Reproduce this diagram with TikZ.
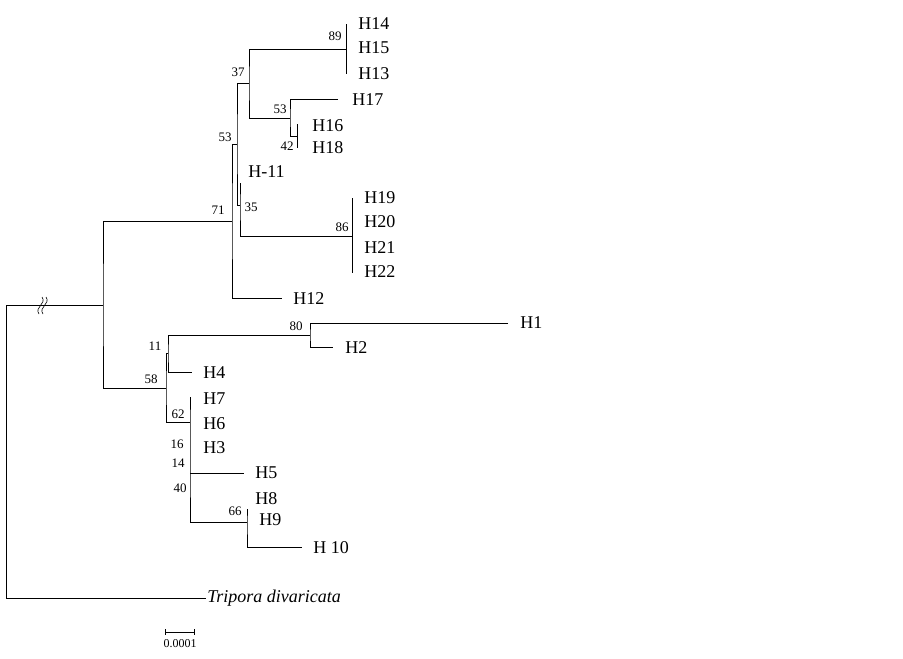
\documentclass[tikz,border=0pt]{standalone}
\usepackage{fontspec}
\setmainfont{Liberation Serif}
\begin{document}
\begin{tikzpicture}[x=1pt,y=-1pt,line width=0.7pt,
  taxon/.style={anchor=west,inner sep=0pt,font=\fontsize{18}{21}\selectfont},
  boot/.style={inner sep=0pt,font=\fontsize{13}{15}\selectfont}]
\useasboundingbox (0,0) rectangle (903,659);
% internal nodes
\coordinate (root) at (6,305);
\coordinate (n0) at (103,305);
\coordinate (n71) at (232,221);
\coordinate (n53a) at (237,144);
\coordinate (n37) at (249,83);
\coordinate (n89) at (346,49);
\coordinate (n53b) at (290,118);
\coordinate (n42) at (297,136);
\coordinate (n35) at (240,205);
\coordinate (n86) at (352,236);
\coordinate (n58) at (166,388);
\coordinate (n11) at (168,353);
\coordinate (n80) at (310,335);
\coordinate (n62) at (190,422);
\coordinate (n14) at (190,473);
\coordinate (n66) at (247,522);
% branch tips
\coordinate (t14) at (346,24);
\coordinate (t13) at (346,74);
\coordinate (t17) at (338,99);
\coordinate (t16) at (297,124);
\coordinate (t18) at (297,148);
\coordinate (t11) at (240,183);
\coordinate (t19) at (352,198);
\coordinate (t22) at (352,273);
\coordinate (t12) at (282,298);
\coordinate (t1) at (508,323);
\coordinate (t2) at (333,347);
\coordinate (t4) at (192,372);
\coordinate (t7) at (190,397);
\coordinate (t5) at (244,473);
\coordinate (t8) at (247,509);
\coordinate (t10) at (302,547);
\coordinate (tout) at (206,598);
% branches
\draw (n0) -- (root) |- (tout);
\draw (n71) -| (n0) |- (n58);
\draw (n53a) -| (n71) |- (t12);
\draw (n37) -| (n53a) |- (n35);
\draw (n89) -| (n37) |- (n53b);
\draw (t14) -- (t13);
\draw (t17) -| (n53b) |- (n42);
\draw (t16) -- (t18);
\draw (t11) -- (n35) |- (n86);
\draw (t19) -- (t22);
\draw (n11) -| (n58) |- (n62);
\draw (n80) -| (n11) |- (t4);
\draw (t1) -| (n80) |- (t2);
\draw (t7) -- (n62) -- (n14) |- (n66);
\draw (n14) -- (t5);
\draw (t8) -- (n66) |- (t10);
% break on the root branch
\foreach \d in {0,4}
  \draw[line width=0.6pt] (39+\d,314) .. controls (34+\d,307) and (47+\d,304) .. (42+\d,297);
% taxa
\node[taxon] (H14) at (358,24) {H14};
\node[taxon] (H15) at (358,48) {H15};
\node[taxon] (H13) at (358,74) {H13};
\node[taxon] (H17) at (352,100) {H17};
\node[taxon] (H16) at (312,126) {H16};
\node[taxon] (H18) at (312,148) {H18};
\node[taxon] (H11) at (248,172) {H-11};
\node[taxon] (H19) at (364,198) {H19};
\node[taxon] (H20) at (364,222) {H20};
\node[taxon] (H21) at (364,248) {H21};
\node[taxon] (H22) at (364,272) {H22};
\node[taxon] (H12) at (293,299) {H12};
\node[taxon] (H1) at (520,323) {H1};
\node[taxon] (H2) at (345,348) {H2};
\node[taxon] (H4) at (203,373) {H4};
\node[taxon] (H7) at (203,399) {H7};
\node[taxon] (H6) at (203,424) {H6};
\node[taxon] (H3) at (203,448) {H3};
\node[taxon] (H5) at (255,473) {H5};
\node[taxon] (H8) at (255,499) {H8};
\node[taxon] (H9) at (259,520) {H9};
\node[taxon] (H10) at (313,548) {H 10};
\node[taxon,font=\fontsize{18}{21}\selectfont\itshape] (Tdiv) at (207,598) {Tripora divaricata};
% bootstrap values
\node[boot] (b89) at (335,36) {89};
\node[boot] (b37) at (238,72) {37};
\node[boot] (b53b) at (280,109) {53};
\node[boot] (b42) at (287,146) {42};
\node[boot] (b53a) at (225,137) {53};
\node[boot] (b71) at (218,210) {71};
\node[boot] (b35) at (251,207) {35};
\node[boot] (b86) at (342,227) {86};
\node[boot] (b80) at (296,326) {80};
\node[boot] (b11) at (155,346) {11};
\node[boot] (b58) at (151,379) {58};
\node[boot] (b62) at (178,414) {62};
\node[boot] (b16) at (177,444) {16};
\node[boot] (b14) at (178,463) {14};
\node[boot] (b40) at (180,488) {40};
\node[boot] (b66) at (235,511) {66};
% scale bar
\coordinate (sbl) at (165,632);
\coordinate (sbr) at (194,632);
\draw[line width=0.5pt] (sbl) -- (sbr);
\draw[line width=0.5pt] ([yshift=3pt]sbl) -- ([yshift=-3pt]sbl);
\draw[line width=0.5pt] ([yshift=3pt]sbr) -- ([yshift=-3pt]sbr);
\node[boot,font=\fontsize{12}{14}\selectfont] (scale) at (180,644) {0.0001};
\end{tikzpicture}
\end{document}
